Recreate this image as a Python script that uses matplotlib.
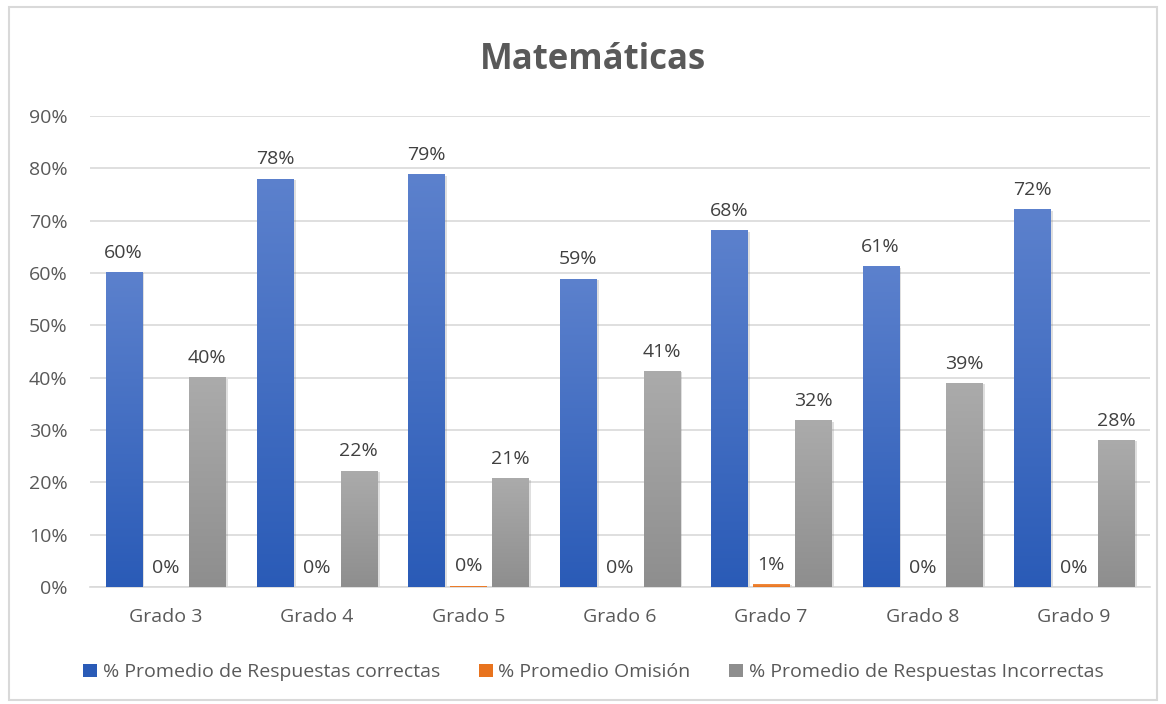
import numpy as np
import matplotlib
matplotlib.use('AGG')
import matplotlib.pyplot as plt
from matplotlib.colors import LinearSegmentedColormap
from matplotlib.patches import Rectangle, Patch
import matplotlib.patheffects as pe

plt.rcParams['font.family'] = ['Open Sans', 'DejaVu Sans']

# Data (fractions)
grados = ["Grado 3", "Grado 4", "Grado 5", "Grado 6", "Grado 7", "Grado 8", "Grado 9"]
correctas = [0.602, 0.780, 0.789, 0.589, 0.682, 0.613, 0.722]
omision = [0.0, 0.0, 0.003, 0.0, 0.006, 0.0, 0.0]
incorrectas = [0.401, 0.222, 0.208, 0.413, 0.319, 0.390, 0.281]

series = [
    ("% Promedio de Respuestas correctas", correctas, ("#5C81CD", "#2A5BB7")),
    ("% Promedio Omisión", omision, ("#F4934A", "#E8731E")),
    ("% Promedio de Respuestas Incorrectas", incorrectas, ("#ABABAB", "#8E8E8E")),
]

fig = plt.figure(figsize=(11.66, 7.04), dpi=100)
ax = fig.add_axes([0.077, 0.166, 0.909, 0.669])

x = np.arange(len(grados))
step = 0.277
width = 0.238
grad = np.linspace(0, 1, 256).reshape(-1, 1)

handles = []
for i, (name, vals, (top_c, bot_c)) in enumerate(series):
    cmap = LinearSegmentedColormap.from_list(name, [bot_c, top_c])
    for xi, v in zip(x, vals):
        left = xi + (i - 1) * step - width / 2
        if v > 0:
            rect = Rectangle((left, 0), width, v, facecolor='none', edgecolor='none', zorder=3)
            ax.add_patch(rect)
            shadow = Rectangle((left, 0), width, v, facecolor=bot_c, edgecolor='none', zorder=2,
                               path_effects=[pe.SimplePatchShadow(offset=(2, -1), alpha=0.25,
                                                                  shadow_rgbFace='#808080')])
            ax.add_patch(shadow)
            im = ax.imshow(grad, cmap=cmap, aspect='auto', origin='lower',
                           extent=(left, left + width, 0, max(v, 0.001)), zorder=3)
            im.set_clip_path(rect)
        ax.text(left + width / 2, v + 0.02, f"{v * 100:.0f}%", ha='center', va='bottom',
                fontsize=14, color='#404040', zorder=4)
    handles.append(Patch(facecolor=bot_c, edgecolor='none', label=name))

ax.set_xlim(-0.5, len(grados) - 0.5)
ax.set_ylim(0, 0.9)
ax.set_yticks(np.arange(0, 0.91, 0.1))
ax.set_yticklabels([f"{t}%" for t in range(0, 91, 10)])
ax.set_xticks(x)
ax.set_xticklabels(grados)
ax.tick_params(axis='both', length=0, labelsize=14, colors='#595959')
ax.tick_params(axis='x', pad=15)
ax.tick_params(axis='y', pad=16)
ax.yaxis.grid(True, color='#D9D9D9', linewidth=1.2, zorder=0)
ax.set_axisbelow(True)
for s in ['top', 'right', 'left']:
    ax.spines[s].set_visible(False)
ax.spines['bottom'].set_color('#D9D9D9')
ax.spines['bottom'].set_linewidth(1.2)

fig.text(0.509, 0.915, "Matemáticas", ha='center', va='center', fontsize=25,
         fontweight='bold', color='#595959')

fig.legend(handles=handles, loc='center', bbox_to_anchor=(0.509, 0.045), ncol=3,
           frameon=False, fontsize=14, handlelength=0.7, handleheight=0.7,
           handletextpad=0.3, columnspacing=2.0, labelcolor='#595959')

border = Rectangle((0.008, 0.006), 0.984, 0.984, transform=fig.transFigure,
                   fill=False, edgecolor='#D9D9D9', linewidth=1.5)
fig.patches.append(border)

fig.savefig("out.png", dpi=100)
